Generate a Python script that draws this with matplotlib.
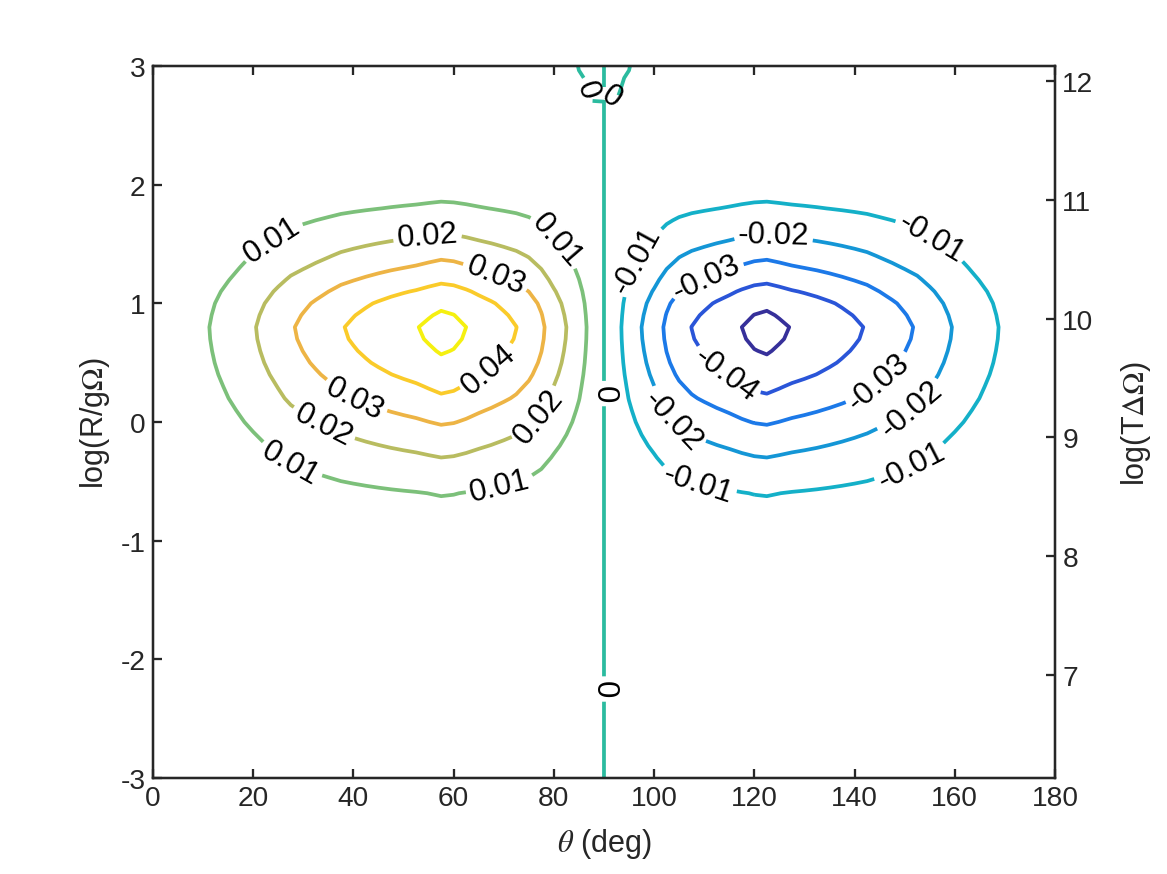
import numpy as np
import matplotlib.pyplot as plt

plt.rcParams['font.family'] = ['Liberation Sans', 'DejaVu Sans']
plt.rcParams['mathtext.fontset'] = 'stix'
plt.rcParams['axes.unicode_minus'] = False

# grid of the computed field (theta in deg, log R)
theta_half = np.arange(0, 90.1, 2.5)
logR = np.round(np.arange(-3.0, 3.01, 0.1), 2)

# theta profile of the field on 0..90 deg (antisymmetric about 90)
A_half = np.array([
    0.0002, 0.0022, 0.0044, 0.0066, 0.0089, 0.0113, 0.0138, 0.0165, 0.0195, 0.0226,
    0.0260, 0.0295, 0.0320, 0.0345, 0.0370, 0.0398, 0.0418, 0.0437, 0.0455, 0.0472,
    0.0487, 0.0501, 0.0520, 0.0538, 0.0528, 0.0505, 0.0478, 0.0455, 0.0430, 0.0405,
    0.0370, 0.0320, 0.0255, 0.0202, 0.0142, 0.0075, 0])

# log R profile (relative)
B = np.array([
    0.012, 0.014, 0.016, 0.018, 0.020, 0.022, 0.025, 0.028, 0.031, 0.035,
    0.039, 0.043, 0.048, 0.053, 0.059, 0.066, 0.073, 0.081, 0.090, 0.100,
    0.111, 0.124, 0.140, 0.164, 0.193, 0.250, 0.310, 0.371, 0.435, 0.500,
    0.575, 0.645, 0.720, 0.780, 0.845, 0.900, 0.942, 0.975, 0.990, 0.950,
    0.895, 0.810, 0.710, 0.615, 0.530, 0.445, 0.360, 0.290, 0.218, 0.162,
    0.140, 0.122, 0.106, 0.092, 0.080, 0.070, 0.062, 0.055, 0.049, 0.044, 0.040])

# sign change close to 90 deg at the top of the plot
split_logR = [2.6, 2.7, 2.8, 2.9, 3.0]
split_strength = [0.0, 0.98, 1.3, 1.6, 2.25]
split_weight_half = np.zeros(len(theta_half))
split_weight_half[-3] = 0.5   # 85 deg
split_weight_half[-2] = 1.0   # 87.5 deg

levels = np.round(np.arange(-0.05, 0.051, 0.01), 2)
level_colors = ['#36309a', '#2a55d8', '#1c79e8', '#1496d6', '#14b0c8', '#2bbb9f',
                '#7cc07a', '#b8bc60', '#edb445', '#facb2a', '#f5f010']

# where the contour labels sit (theta, logR)
label_pos = [(23.7, 1.54), (54.9, 1.54), (80.2, 1.52), (68.6, 1.26), (67.3, 0.43),
             (40.9, 0.26), (35.3, 0.09), (75.2, 0.11), (27.3, -0.35), (69.2, -0.54),
             (89.8, 0.24), (89.8, -2.25), (86.8, 2.80), (91.8, 2.76),
             (98.6, 1.33), (123.7, 1.54), (155.1, 1.54), (110.4, 1.22), (115.1, 0.45),
             (142.7, 0.45), (149.1, 0.25), (104.2, 0.03), (109.2, -0.44), (151.1, -0.34)]

right_offset = 9.129  # log(T dOmega) - log(R/g Omega)

theta = np.concatenate([theta_half, 180 - theta_half[::-1][1:]])
A = np.concatenate([A_half, -A_half[::-1][1:]])
M = np.concatenate([split_weight_half, split_weight_half[::-1][1:]])
D = np.interp(logR, split_logR, split_strength, left=0.0)
Z = np.outer(B, A) * (1 - np.outer(D, M))

axc = '#262626'
fig = plt.figure(figsize=(7.78, 5.833), dpi=150)
ax = fig.add_axes([0.1311, 0.1097, 0.7729, 0.8137])

# innermost loops carry no label, so they get their own contour set
ax.contour(theta, logR, Z, levels=[levels[0], levels[-1]],
           colors=[level_colors[0], level_colors[-1]], linewidths=1.8)
cs = ax.contour(theta, logR, Z, levels=levels[1:-1], colors=level_colors[1:-1],
                linewidths=1.8)


def fmt(v):
    v = round(v, 2)
    return '0' if v == 0 else f'{v:g}'


ax.clabel(cs, manual=label_pos, inline=True, fmt=fmt,
          fontsize=15, colors='k', inline_spacing=4)

ax.set_xlim(0, 180)
ax.set_ylim(-3, 3)
ax.set_xticks(np.arange(0, 181, 20))
ax.set_yticks(np.arange(-3, 4, 1))
ax.tick_params(direction='in', length=4.5, width=1.1, colors=axc, labelsize=13.5,
               top=True, right=False, labelcolor=axc)
ax.set_xlabel(r'$\theta$ (deg)', fontsize=14.7, color=axc, labelpad=7)
ax.set_ylabel(r'log(R/g$\Omega$)', fontsize=14.7, color=axc, labelpad=4)

ax2 = ax.twinx()
ax2.set_ylim(-3 + right_offset, 3 + right_offset)
ax2.set_yticks(np.arange(7, 13, 1))
ax2.tick_params(direction='in', length=4.5, width=1.1, colors=axc, labelsize=13.5,
                labelcolor=axc)
ax2.set_ylabel(r'log(T$\Delta\Omega$)', fontsize=14.7, color=axc, labelpad=12)

for a in (ax, ax2):
    for s in a.spines.values():
        s.set_color(axc)
        s.set_linewidth(1.1)

fig.savefig('out.png', dpi=150)
